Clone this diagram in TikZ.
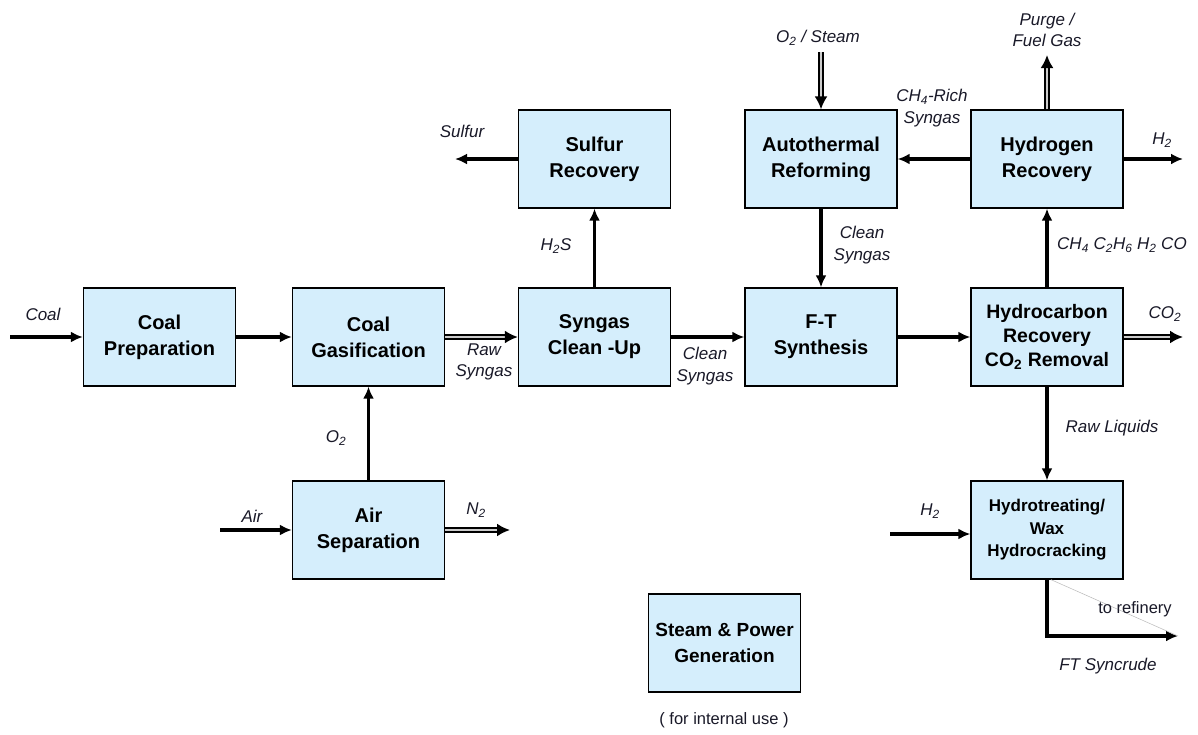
\documentclass[tikz,border=0pt]{standalone}
\usepackage{fontspec}
\setmainfont{Liberation Sans}
\usetikzlibrary{arrows.meta}
\definecolor{boxblue}{RGB}{213,238,252}
\definecolor{labink}{RGB}{25,25,40}
\newcommand\boxfont{\fontsize{20}{26}\selectfont\bfseries}
\newcommand\smallboxfont{\fontsize{17}{22.5}\selectfont\bfseries}
\newcommand\labfont{\fontsize{17}{21.5}\selectfont\itshape}
\newcommand\plainfont{\fontsize{16.5}{21.5}\selectfont}
\begin{document}
\begin{tikzpicture}[x=1pt,y=-1pt,
  box/.style={draw=black, line width=1.3pt, fill=boxblue, minimum width=152pt, minimum height=98pt, align=center, font=\boxfont, inner sep=2pt},
  flow/.style={line width=3.8pt, -{Latex[length=12pt,width=11pt]}},
  dflow/.style={line width=2.2pt, double=white!80!black, double distance=1.1pt, -{Latex[length=13pt,width=13pt]}},
  lab/.style={font=\labfont, text=labink, align=center, inner sep=0pt},
  plain/.style={font=\plainfont, text=labink, align=center, inner sep=0pt}]
\useasboundingbox (0,0) rectangle (1198,734);
\fill[white] (0,0) rectangle (1198,734);

% boxes
\node[box] (prep)  at (159.5,337) {Coal\\Preparation};
\node[box] (gas)   at (368.5,337) {Coal\\Gasification};
\node[box] (clean) at (594.5,337) {Syngas\\Clean -Up};
\node[box] (ft)    at (821,337) {F-T\\Synthesis};
\node[box, font=\fontsize{19.5}{24}\selectfont\bfseries] (hc) at (1047,337) {Hydrocarbon\\Recovery\\CO\textsubscript{2} Removal};
\node[box] (sulf)  at (594.5,159) {Sulfur\\Recovery};
\node[box] (atr)   at (821,159) {Autothermal\\Reforming};
\node[box] (h2r)   at (1047,159) {Hydrogen\\Recovery};
\node[box] (asu)   at (368.5,530) {Air\\Separation};
\node[box, font=\smallboxfont] (ht) at (1047,530) {Hydrotreating/\\Wax\\Hydrocracking};
\node[box, font=\fontsize{19}{26}\selectfont\bfseries] (steam) at (724.5,643) {Steam \& Power\\Generation};

% free ends
\coordinate (coalin) at (10,337);
\coordinate (co2out) at (1183,337);
\coordinate (sulfout) at (455,159);
\coordinate (h2out) at (1183,159);
\coordinate (purge) at (1047,55);
\coordinate (o2st) at (821,52);
\coordinate (h2in) at (890,534);
\coordinate (synout) at (1178,636);
\coordinate (airin) at (220,530);
\coordinate (n2out) at (510,530);

% connectors
\draw[flow] (coalin) -- (prep);
\draw[flow] (prep) -- (gas);
\draw[dflow] (gas) -- (clean);
\draw[flow] (clean) -- (ft);
\draw[flow] (ft) -- (hc);
\draw[dflow] (hc) -- (co2out);
\draw[flow] (clean) -- (sulf);
\draw[flow] (sulf) -- (sulfout);
\draw[flow] (h2r) -- (atr);
\draw[flow] (h2r) -- (h2out);
\draw[dflow] (h2r) -- (purge);
\draw[dflow] (o2st) -- (atr);
\draw[flow] (atr) -- (ft);
\draw[flow] (hc) -- (h2r);
\draw[flow] (hc) -- (ht);
\draw[flow] (h2in) -- (h2in -| ht.west);
\draw[flow] (ht.south) |- (synout);
\draw[gray!55, line width=0.5pt] ([xshift=4pt]ht.south) -- (synout);
\draw[flow] (asu) -- (gas);
\draw[flow] (airin) -- (asu);
\draw[dflow] (asu) -- (n2out);

% labels
\node[lab] (lcoal) at (43,314) {Coal};
\node[lab] (lraw) at (484,362) {Raw\\Syngas};
\node[lab] (lclean1) at (705,366) {Clean\\Syngas};
\node[lab] (lco2) at (1165,314) {CO\textsubscript{2}};
\node[lab] (lh2s) at (556,246) {H\textsubscript{2}S};
\node[lab] (lsulf) at (462,131) {Sulfur};
\node[lab] (lch4) at (932,108) {CH\textsubscript{4}-Rich\\Syngas};
\node[lab] (lh2a) at (1162,140) {H\textsubscript{2}};
\node[lab] (lpurge) at (1047,30) {Purge /\\Fuel Gas};
\node[lab] (lo2st) at (818,38) {O\textsubscript{2} / Steam};
\node[lab] (lclean2) at (862,245) {Clean\\Syngas};
\node[lab, anchor=west] (lgases) at (1057,245) {CH\textsubscript{4} C\textsubscript{2}H\textsubscript{6} H\textsubscript{2} CO};
\node[lab] (lrawliq) at (1112,428) {Raw Liquids};
\node[lab] (lh2b) at (930,511) {H\textsubscript{2}};
\node[plain] (lref) at (1135,609) {to refinery};
\node[lab] (lsyn) at (1108,666) {FT Syncrude};
\node[lab] (lo2) at (336,438) {O\textsubscript{2}};
\node[lab] (lair) at (252,516) {Air};
\node[lab] (ln2) at (476,510) {N\textsubscript{2}};
\node[plain] (lint) at (724,720) {( for internal use )};
\end{tikzpicture}
\end{document}
